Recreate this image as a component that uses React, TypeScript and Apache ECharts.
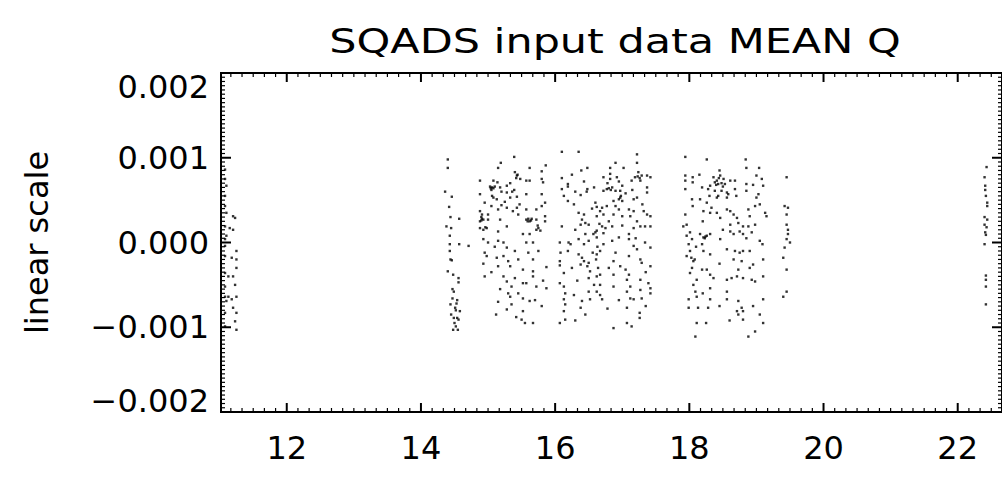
import React, { useEffect, useRef } from "react";
import * as echarts from "echarts";

// ---- texts ----
const TITLE = "SQADS input data MEAN Q";
const Y_NAME = "linear scale";

// ---- axes ----
const X_MIN = 11.02;
const X_MAX = 22.66;
const X_MAJOR = [12, 14, 16, 18, 20, 22];
const X_MINOR_PER_UNIT = 6; // 10-minute minor ticks on an hour axis
const Y_MIN = -0.002;
const Y_MAX = 0.002;
const Y_STEP = 0.001;
const Y_MAJOR = [-0.002, -0.001, 0, 0.001, 0.002];
const Y_MINOR_PER_STEP = 20;
const Y_UNIT = 1e-3; // y values below are in units of 0.001

// ---- data: [x, y(×0.001)] ----
const edgeGroup: number[][] = [
  [11.08, 0.86], [11.08, 0.75], [11.10, 0.67], [11.08, 0.55], [11.08, 0.43], [11.10, 0.35],
  [11.20, 0.31], [11.23, 0.29], [11.08, 0.19], [11.15, 0.17], [11.20, 0.15], [11.10, 0.08],
  [11.08, 0.04], [11.08, -0.04], [11.25, -0.10], [11.08, -0.16], [11.18, -0.18], [11.25, -0.20],
  [11.25, -0.30], [11.08, -0.36], [11.13, -0.40], [11.20, -0.40], [11.23, -0.50], [11.08, -0.52],
  [11.08, -0.64], [11.13, -0.64], [11.18, -0.67], [11.25, -0.64], [11.10, -0.69], [11.20, -0.77],
  [11.25, -0.83], [11.08, -0.83], [11.23, -0.93], [11.08, -0.99], [11.25, -1.03],
];

const clusterA: number[][] = [
  [14.40, 0.98], [14.40, 0.88], [14.36, 0.60], [14.46, 0.54], [14.44, 0.30], [14.38, 0.19],
  [14.45, 0.17], [14.43, 0.08], [14.57, 0.28], [14.43, -0.02], [14.43, -0.10], [14.44, -0.20],
  [14.46, -0.21], [14.57, -0.02], [14.40, -0.34], [14.48, -0.38], [14.56, -0.42], [14.56, -0.47],
  [14.49, -0.58], [14.47, -0.66], [14.54, -0.68], [14.44, -0.73], [14.51, -0.77], [14.58, -0.81],
  [14.49, -0.89], [14.54, -0.89], [14.56, -0.91], [14.52, -0.99], [14.48, -1.03], [14.55, -1.03],
  [14.50, -0.95], [14.45, -0.85], [14.53, -0.72], [14.52, -0.80], [14.47, -0.55], [14.42, 0.42],
];

const clusterB: number[][] = [
  [15.39, 1.01], [15.19, 0.94], [15.15, 0.88], [14.88, 0.73], [15.08, 0.73], [15.14, 0.71],
  [15.28, 0.67], [15.40, 0.83], [15.43, 0.79], [15.48, 0.75], [15.57, 0.73], [15.62, 0.73],
  [15.62, 0.88], [15.80, 0.84], [15.86, 0.91], [15.80, 0.75], [15.82, 0.71], [15.04, 0.64],
  [15.08, 0.64], [15.18, 0.65], [15.28, 0.59], [14.88, 0.57], [15.08, 0.53], [15.13, 0.51],
  [15.33, 0.53], [15.43, 0.54], [15.57, 0.57], [15.80, 0.57], [15.85, 0.47], [14.95, 0.47],
  [15.05, 0.43], [15.15, 0.39], [15.20, 0.44], [15.28, 0.41], [15.43, 0.41], [15.57, 0.39],
  [15.72, 0.39], [15.80, 0.43], [14.88, 0.37], [14.91, 0.33], [15.00, 0.33], [15.00, 0.27],
  [15.18, 0.27], [15.45, 0.33], [15.57, 0.27], [15.62, 0.25], [15.72, 0.27], [15.85, 0.31],
  [15.85, 0.25], [14.98, 0.17], [14.93, 0.15], [15.15, 0.13], [15.28, 0.19], [15.52, 0.10],
  [15.62, 0.10], [15.72, 0.15], [15.75, 0.17], [14.93, 0.04], [15.00, 0.00], [15.15, 0.02],
  [15.23, 0.00], [15.28, -0.06], [15.57, 0.00], [15.67, 0.00], [14.71, -0.04], [14.95, -0.12],
  [14.98, -0.16], [15.13, -0.18], [15.23, -0.16], [15.30, -0.22], [15.60, -0.12], [15.67, -0.20],
  [14.93, -0.25], [15.15, -0.28], [15.33, -0.28], [15.52, -0.32], [15.67, -0.34], [15.87, -0.29],
  [14.95, -0.40], [15.23, -0.40], [15.28, -0.46], [15.35, -0.52], [15.52, -0.48], [15.57, -0.48],
  [15.67, -0.40], [15.72, -0.52], [15.87, -0.54], [15.30, -0.60], [15.33, -0.64], [15.52, -0.66],
  [15.62, -0.69], [15.70, -0.68], [15.15, -0.70], [15.35, -0.73], [15.28, -0.79], [15.52, -0.81],
  [15.50, -0.91], [15.55, -0.95], [15.67, -0.95], [14.88, 0.25], [14.88, 0.17],
  [15.03, 0.66], [15.06, 0.65], [15.60, 0.28], [15.65, 0.28], [14.93, 0.27], [14.90, 0.26],
  [15.36, 0.60], [15.39, 0.62], [15.06, 0.55], [15.33, 0.70],
  [15.05, 0.62], [15.10, 0.66], [14.90, 0.30], [14.91, 0.28], [15.59, 0.25], [15.64, 0.26],
  [15.74, 0.20], [15.78, 0.14], [15.44, 0.80], [15.42, 0.76], [14.96, 0.18], [15.20, 0.60],
  [15.25, 0.48], [15.47, 0.45], [15.37, 0.37], [15.10, -0.05], [15.40, -0.10], [15.45, -0.20],
  [15.75, -0.10], [15.05, -0.35], [15.40, -0.42], [15.82, -0.45], [15.18, -0.55], [15.45, -0.60],
  [15.80, -0.75], [15.12, -0.85], [15.42, -0.88],
];

const clusterC: number[][] = [
  [16.10, 1.07], [16.35, 1.07], [16.39, 0.85], [16.48, 0.88], [16.10, 0.76], [16.19, 0.69],
  [16.19, 0.66], [16.10, 0.63], [16.43, 0.72], [16.48, 0.63], [16.47, 0.60], [16.38, 0.56],
  [16.58, 0.65], [16.13, 0.55], [16.19, 0.49], [16.60, 0.47], [16.62, 0.42], [16.35, 0.35],
  [16.43, 0.33], [16.40, 0.27], [16.45, 0.23], [16.38, 0.21], [16.10, 0.19], [16.50, 0.21],
  [16.62, 0.31], [16.35, 0.04], [16.57, 0.10], [16.62, 0.06], [16.07, 0.00], [16.20, 0.00],
  [16.23, -0.02], [16.19, -0.10], [16.43, -0.02], [16.50, 0.02], [16.08, -0.12], [16.35, -0.14],
  [16.40, -0.18], [16.43, -0.22], [16.50, -0.24], [16.62, -0.14], [16.56, -0.12], [16.07, -0.22],
  [16.07, -0.27], [16.13, -0.36], [16.38, -0.26], [16.48, -0.28], [16.52, -0.34], [16.50, -0.42],
  [16.62, -0.40], [16.07, -0.48], [16.13, -0.52], [16.50, -0.58], [16.15, -0.60], [16.13, -0.67],
  [16.62, -0.58], [16.40, -0.69], [16.52, -0.67], [16.15, -0.73], [16.13, -0.81], [16.38, -0.77],
  [16.07, -0.95], [16.15, -0.91],
  [17.22, 1.04], [17.22, 0.94], [16.90, 0.94], [16.82, 0.88], [17.02, 0.88], [16.72, 0.77],
  [16.82, 0.81], [16.82, 0.75], [16.92, 0.77], [17.00, 0.67], [16.85, 0.65], [16.77, 0.63],
  [16.72, 0.61], [16.90, 0.61], [16.97, 0.61], [17.14, 0.73], [17.19, 0.77], [17.24, 0.83],
  [17.29, 0.79], [17.37, 0.79], [17.42, 0.77], [17.27, 0.73], [17.37, 0.65], [17.37, 0.59],
  [17.22, 0.53], [17.17, 0.51], [16.97, 0.53], [16.95, 0.51], [17.00, 0.49], [16.87, 0.49],
  [16.77, 0.43], [16.70, 0.41], [16.67, 0.37], [16.72, 0.33], [16.90, 0.43], [16.95, 0.39],
  [16.87, 0.33], [17.00, 0.31], [17.10, 0.39], [17.17, 0.37], [17.12, 0.31], [17.32, 0.37],
  [17.37, 0.33], [17.42, 0.31], [17.22, 0.25], [17.17, 0.17], [17.27, 0.19], [17.34, 0.19],
  [17.42, 0.19], [16.70, 0.19], [16.75, 0.17], [16.72, 0.11], [16.85, 0.19], [16.95, 0.06],
  [16.85, 0.02], [17.10, 0.10], [17.10, 0.04], [17.17, -0.04], [17.22, -0.08], [17.34, 0.00],
  [17.42, -0.06], [16.72, -0.02], [16.67, -0.10], [16.90, -0.12], [17.10, -0.16], [17.27, -0.20],
  [17.29, -0.24], [16.87, -0.22], [17.42, -0.28], [17.05, -0.32], [17.10, -0.38], [17.27, -0.44],
  [16.67, -0.38], [16.87, -0.38], [17.07, -0.44], [16.67, -0.50], [16.87, -0.52], [17.12, -0.52],
  [17.39, -0.48], [17.42, -0.54], [17.27, -0.56], [16.67, -0.62], [16.70, -0.67], [17.07, -0.58],
  [17.12, -0.66], [17.17, -0.67], [17.29, -0.66], [17.07, -0.77], [17.26, -0.83], [17.26, -0.89],
  [16.87, -1.01], [17.07, -0.95], [17.14, -0.99], [17.42, -0.60],
  [16.98, 0.55], [16.80, 0.64], [16.83, 0.62], [17.23, 0.78], [17.26, 0.76], [16.60, 0.12],
  [16.62, 0.14], [16.66, 0.22], [16.63, -0.05], [16.61, -0.20], [16.64, -0.30],
  [16.25, 0.80], [16.30, 0.60], [16.28, 0.45], [16.55, 0.40], [16.30, 0.15], [16.45, 0.10],
  [16.25, -0.30], [16.33, -0.45], [16.58, -0.50], [16.28, -0.62], [16.45, -0.85], [16.30, -0.92],
  [16.78, 0.70], [16.95, 0.72], [17.05, 0.58], [17.15, 0.62], [17.30, 0.45], [16.80, 0.25],
  [17.00, 0.20], [17.20, 0.05], [16.80, -0.30], [16.97, -0.28], [17.35, -0.35], [16.78, -0.78],
  [16.95, -0.68], [17.35, -0.75],
];

const clusterD: number[][] = [
  [17.94, 1.01], [18.26, 0.98], [18.84, 0.98], [18.45, 0.85], [18.85, 0.88], [19.04, 0.88],
  [17.94, 0.79], [18.05, 0.77], [17.94, 0.73], [18.05, 0.71], [17.94, 0.63], [18.19, 0.65],
  [18.31, 0.67], [18.36, 0.77], [18.41, 0.73], [18.46, 0.79], [18.51, 0.75], [18.43, 0.69],
  [18.53, 0.69], [18.61, 0.73], [18.68, 0.73], [18.28, 0.63], [18.38, 0.61], [18.48, 0.61],
  [18.56, 0.59], [18.68, 0.63], [18.85, 0.69], [18.85, 0.61], [19.00, 0.79], [19.08, 0.75],
  [19.10, 0.67], [19.03, 0.57], [19.00, 0.53], [18.43, 0.55], [18.41, 0.53], [18.58, 0.57],
  [18.56, 0.53], [18.04, 0.51], [18.16, 0.51], [18.05, 0.43], [18.26, 0.47], [18.33, 0.41],
  [18.21, 0.37], [18.31, 0.35], [18.41, 0.35], [18.46, 0.29], [18.56, 0.39], [18.61, 0.37],
  [18.66, 0.33], [18.71, 0.29], [18.73, 0.23], [18.80, 0.19], [18.88, 0.39], [18.90, 0.31],
  [18.98, 0.43], [19.05, 0.45], [19.13, 0.35], [19.15, 0.31], [17.94, 0.33], [17.96, 0.21],
  [17.91, 0.19], [18.01, 0.12], [17.96, 0.08], [18.04, 0.04], [17.99, -0.02], [18.16, 0.10],
  [18.21, 0.06], [18.26, 0.08], [18.31, 0.10], [18.46, 0.04], [18.61, 0.13], [18.66, 0.10],
  [18.75, 0.13], [18.80, 0.10], [18.61, 0.21], [18.88, 0.19], [18.98, 0.21], [18.93, 0.12],
  [19.05, 0.02], [19.09, -0.02], [18.01, -0.10], [17.96, -0.16], [18.19, -0.02], [18.21, -0.10],
  [18.31, -0.14], [18.06, -0.22], [18.56, -0.08], [18.68, -0.10], [18.75, -0.12], [18.80, -0.10],
  [18.90, -0.10], [18.66, -0.20], [18.78, -0.22], [18.95, -0.26], [19.10, -0.20], [18.04, -0.30],
  [18.01, -0.36], [18.19, -0.32], [18.26, -0.32], [18.31, -0.38], [18.11, -0.44], [18.36, -0.42],
  [18.56, -0.44], [18.63, -0.42], [18.71, -0.40], [18.73, -0.32], [18.80, -0.42], [18.93, -0.44],
  [18.98, -0.46], [19.10, -0.40], [18.06, -0.50], [18.09, -0.58], [18.31, -0.54], [18.56, -0.58],
  [18.11, -0.64], [17.99, -0.67], [18.31, -0.67], [18.56, -0.67], [18.73, -0.69], [18.78, -0.77],
  [19.10, -0.67], [17.99, -0.77], [18.13, -0.77], [18.28, -0.77], [18.71, -0.81], [18.80, -0.81],
  [18.73, -0.85], [18.80, -0.91], [18.11, -0.95], [19.10, -0.95], [18.09, -1.11], [18.88, -1.11],
  [18.98, -1.05],
  [18.38, 0.71], [18.40, 0.68], [18.44, 0.76], [18.48, 0.70], [18.50, 0.66], [18.24, 0.07],
  [18.23, 0.05], [18.03, -0.18], [18.08, -0.20],
  [18.15, 0.80], [18.30, 0.55], [18.70, 0.55], [18.95, 0.68], [18.20, 0.25], [18.50, 0.15],
  [18.85, 0.05], [18.10, -0.05], [18.45, -0.25], [18.90, -0.30], [18.20, -0.60], [18.45, -0.75],
  [18.95, -0.75], [18.60, -0.92], [18.25, -0.95], [19.05, -0.85],
  [19.45, 0.77], [19.42, 0.43], [19.47, 0.41], [19.45, 0.33], [19.45, 0.21], [19.47, 0.15],
  [19.47, 0.10], [19.45, 0.04], [19.50, 0.00], [19.42, -0.06], [19.40, -0.18], [19.45, -0.32],
  [19.45, -0.58], [19.40, -0.64],
];

const clusterE: number[][] = [
  [22.43, 0.89], [22.40, 0.77], [22.41, 0.67], [22.41, 0.62], [22.42, 0.55], [22.44, 0.47],
  [22.44, 0.43], [22.40, 0.30], [22.44, 0.27], [22.40, 0.21], [22.43, 0.18], [22.41, 0.12],
  [22.42, 0.09], [22.40, -0.02], [22.42, -0.39], [22.42, -0.44], [22.42, -0.52], [22.42, -0.73],
];

const ALL_GROUPS = [edgeGroup, clusterA, clusterB, clusterC, clusterD, clusterE];

// tick position lists (axis decoration, not data)
const xMinor: number[] = [];
for (let k = Math.ceil(X_MIN * X_MINOR_PER_UNIT); k <= Math.floor(X_MAX * X_MINOR_PER_UNIT); k++) {
  if (k % (2 * X_MINOR_PER_UNIT) !== 0) xMinor.push(k / X_MINOR_PER_UNIT);
}
const yMinor: number[] = [];
{
  const n = Math.round((Y_MAX - Y_MIN) / Y_STEP) * Y_MINOR_PER_STEP;
  for (let k = 0; k <= n; k++) {
    if (k % Y_MINOR_PER_STEP !== 0) yMinor.push(Y_MIN + (k * Y_STEP) / Y_MINOR_PER_STEP);
  }
}

const FONT = "DejaVu Sans";
const LABEL_SIZE = 32;

// plot frame
const PL = 221, PT = 73, PW = 783, PH = 339;
const X_TICK_LEN = { major: 9, minor: 4 };
const Y_TICK_LEN = { major: 10, minor: 4 };

const fmtY = (v: number) => {
  const s = (Math.abs(v) < 1e-12 ? 0 : v).toFixed(3);
  return s.replace("-", "\u2212");
};

export default function App() {
  const ref = useRef<HTMLDivElement>(null);
  useEffect(() => {
    if (!ref.current) return;
    const chart = echarts.init(ref.current, null, { renderer: "svg" });
    const black = "#000";
    const data = ALL_GROUPS.flatMap((g) => g.map(([x, y]) => [x, y * Y_UNIT]));

    const titleEl = {
      id: "title",
      type: "text",
      x: 615,
      y: 41,
      scaleX: 1.3,
      z: 10,
      style: {
        text: TITLE,
        font: `33px "${FONT}"`,
        fill: black,
        textAlign: "center",
        textVerticalAlign: "middle",
      },
    };

    chart.setOption({
      animation: false,
      backgroundColor: "#fff",
      grid: { left: PL, top: PT, width: PW, height: PH, show: true, borderColor: black, borderWidth: 2, containLabel: false },
      graphic: { elements: [titleEl] },
      xAxis: {
        type: "value",
        min: X_MIN,
        max: X_MAX,
        position: "bottom",
        splitLine: { show: false },
        axisLine: { show: true, onZero: false, lineStyle: { color: black, width: 2 } },
        axisTick: { show: false },
        axisLabel: { show: true, customValues: X_MAJOR, color: black, fontFamily: FONT, fontSize: LABEL_SIZE, margin: 20 },
      },
      yAxis: {
        type: "value",
        min: Y_MIN,
        max: Y_MAX,
        interval: Y_STEP,
        position: "left",
        splitLine: { show: false },
        name: Y_NAME,
        nameLocation: "middle",
        nameRotate: 90,
        nameGap: 168,
        nameTextStyle: { color: black, fontFamily: FONT, fontSize: LABEL_SIZE },
        axisLine: { show: true, onZero: false, lineStyle: { color: black, width: 2 } },
        axisTick: { show: false },
        axisLabel: {
          show: true,
          color: black,
          fontFamily: FONT,
          fontSize: LABEL_SIZE,
          margin: 12,
          formatter: (v: number) => {
            const s = fmtY(v);
            if (v >= Y_MAX - 1e-9) return `{t|${s}}`;
            if (v <= Y_MIN + 1e-9) return `{b|${s}}`;
            return `{n|${s}}`;
          },
          rich: {
            n: { color: black, fontFamily: FONT, fontSize: LABEL_SIZE },
            t: { color: black, fontFamily: FONT, fontSize: LABEL_SIZE, padding: [27, 0, 0, 0] },
            b: { color: black, fontFamily: FONT, fontSize: LABEL_SIZE, padding: [0, 0, 22, 0] },
          },
        },
      },
      series: [
        {
          type: "scatter",
          symbol: "rect",
          symbolSize: 2.4,
          itemStyle: { color: black },
          silent: true,
          data,
        },
      ],
    });

    // Inward frame ticks: positions come from the chart's own scales (convertToPixel)
    const px = (x: number, y: number) => chart.convertToPixel({ gridIndex: 0 }, [x, y]) as number[];
    const tickLines: any[] = [];
    const addLine = (x1: number, y1: number, x2: number, y2: number, w: number) =>
      tickLines.push({
        type: "line",
        z: 10,
        silent: true,
        shape: { x1, y1, x2, y2 },
        style: { stroke: black, lineWidth: w },
      });
    const xTicks = [
      ...X_MAJOR.map((v) => ({ v, len: X_TICK_LEN.major, w: 2 })),
      ...xMinor.map((v) => ({ v, len: X_TICK_LEN.minor, w: 1.2 })),
    ];
    xTicks.forEach(({ v, len, w }) => {
      const b = px(v, Y_MIN);
      const t = px(v, Y_MAX);
      if (!b || !t) return;
      addLine(b[0], b[1], b[0], b[1] - len, w);
      addLine(t[0], t[1], t[0], t[1] + len, w);
    });
    const yTicks = [
      ...Y_MAJOR.map((v) => ({ v, len: Y_TICK_LEN.major, w: 2 })),
      ...yMinor.map((v) => ({ v, len: Y_TICK_LEN.minor, w: 1.2 })),
    ];
    yTicks.forEach(({ v, len, w }) => {
      const l = px(X_MIN, v);
      const r = px(X_MAX, v);
      if (!l || !r) return;
      addLine(l[0], l[1], l[0] + len, l[1], w);
      addLine(r[0], r[1], r[0] - len, r[1], w);
    });
    chart.setOption({ graphic: { elements: [titleEl, ...tickLines] } });

    return () => chart.dispose();
  }, []);
  return (
    <div
      ref={ref}
      style={{ position: "fixed", left: 0, top: 0, width: 1002, height: 479, background: "#fff" }}
    />
  );
}
